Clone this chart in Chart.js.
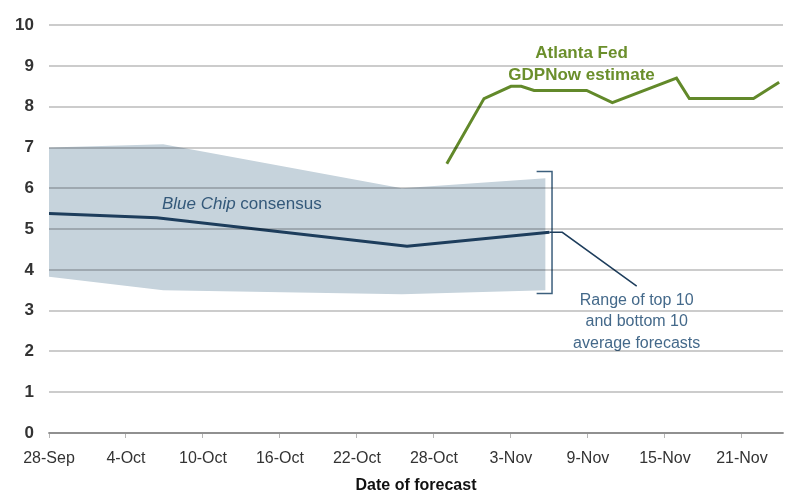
<!DOCTYPE html>
<html>
<head>
<meta charset="utf-8">
<script src="https://cdn.jsdelivr.net/npm/chart.js@4.4.1/dist/chart.umd.min.js"></script>
<style>
  html, body { margin: 0; padding: 0; background: #fff; }
  #wrap { width: 785px; height: 495px; }
</style>
</head>
<body>
<div id="wrap"><canvas id="gdpChart" width="785" height="495"></canvas></div>
<script>
'use strict'

// days counted from 28-Sep
const tickDays = [0, 6, 12, 18, 24, 30, 36, 42, 48, 54];
const tickLabels = ['28-Sep', '4-Oct', '10-Oct', '16-Oct', '22-Oct', '28-Oct', '3-Nov', '9-Nov', '15-Nov', '21-Nov'];

// Blue Chip range (top 10 / bottom 10 averages)
const bandDays = [0, 8.9, 27.5, 38.7];
const bandHigh = [7.0, 7.08, 6.0, 6.25];
const bandLow = [3.83, 3.5, 3.4, 3.5];

// Blue Chip consensus
const consensusDays = [0, 8.4, 27.9, 39.0];
const consensus = [5.38, 5.28, 4.58, 4.92];

// Atlanta Fed GDPNow
const gdpNowDays = [31.0, 33.9, 36.0, 36.8, 37.8, 41.9, 43.9, 48.9, 49.9, 54.9, 56.9];
const gdpNow = [6.6, 8.2, 8.5, 8.5, 8.4, 8.4, 8.1, 8.7, 8.2, 8.2, 8.6];

const pts = (xs, ys) => xs.map((x, i) => ({ x: x, y: ys[i] }));

const green = '#62892a';
const navy = '#1d3d5c';
const labelBlue = '#44698a';

// labels, bracket and pointer line, placed by data values
const notes = {
  id: 'notes',
  afterDatasetsDraw(chart) {
    const ctx = chart.ctx;
    const xs = chart.scales.x, ys = chart.scales.y;
    const X = v => xs.getPixelForValue(v);
    const Y = v => ys.getPixelForValue(v);
    ctx.save();

    // bracket
    ctx.strokeStyle = '#3c5f7d';
    ctx.lineWidth = 1.5;
    ctx.beginPath();
    ctx.moveTo(X(38.0), Y(6.41));
    ctx.lineTo(X(39.2), Y(6.41));
    ctx.lineTo(X(39.2), Y(3.42));
    ctx.lineTo(X(38.0), Y(3.42));
    ctx.stroke();

    // pointer
    ctx.strokeStyle = navy;
    ctx.lineWidth = 1.5;
    ctx.beginPath();
    ctx.moveTo(X(39.0), Y(4.92));
    ctx.lineTo(X(40.0), Y(4.92));
    ctx.lineTo(X(45.8), Y(3.6));
    ctx.stroke();

    // Blue Chip consensus
    ctx.textBaseline = 'middle';
    ctx.textAlign = 'left';
    ctx.fillStyle = '#34597a';
    ctx.font = 'italic 17px "Liberation Sans", Arial, sans-serif';
    const bx = X(8.8), by = Y(5.6);
    ctx.fillText('Blue Chip', bx, by);
    const w = ctx.measureText('Blue Chip ').width;
    ctx.font = '17px "Liberation Sans", Arial, sans-serif';
    ctx.fillText('consensus', bx + w, by);

    // range note
    ctx.textAlign = 'center';
    ctx.fillStyle = labelBlue;
    ctx.font = '16px "Liberation Sans", Arial, sans-serif';
    ctx.fillText('Range of top 10', X(45.8), Y(3.25));
    ctx.fillText('and bottom 10', X(45.8), Y(2.72));
    ctx.fillText('average forecasts', X(45.8), Y(2.2));

    // GDPNow label
    ctx.fillStyle = '#6b8f2c';
    ctx.font = 'bold 17px "Liberation Sans", Arial, sans-serif';
    ctx.fillText('Atlanta Fed', X(41.5), Y(9.3));
    ctx.fillText('GDPNow estimate', X(41.5), Y(8.76));
    ctx.restore();
  }
};

const ctx = document.getElementById('gdpChart').getContext('2d');
const gdpChart = new Chart(ctx, {
  type: 'line',
  data: {
    datasets: [{
      label: 'high',
      data: pts(bandDays, bandHigh),
      borderWidth: 0,
      pointRadius: 0,
      backgroundColor: '#c6d3dc',
      fill: '+1',
      tension: 0,
      order: 3
    }, {
      label: 'low',
      data: pts(bandDays, bandLow),
      borderWidth: 0,
      pointRadius: 0,
      fill: false,
      tension: 0,
      order: 3
    }, {
      label: 'Blue Chip consensus',
      data: pts(consensusDays, consensus),
      borderColor: navy,
      borderWidth: 3,
      pointRadius: 0,
      fill: false,
      tension: 0,
      order: 1
    }, {
      label: 'Atlanta Fed GDPNow estimate',
      data: pts(gdpNowDays, gdpNow),
      borderColor: green,
      borderWidth: 3,
      pointRadius: 0,
      fill: false,
      tension: 0,
      order: 1
    }]
  },
  options: {
    responsive: false,
    animation: false,
    layout: { padding: { top: 15, right: 2, left: 0, bottom: 0 } },
    plugins: {
      legend: { display: false },
      tooltip: { enabled: false }
    },
    scales: {
      x: {
        type: 'linear',
        min: 0,
        max: 57.2,
        afterBuildTicks: scale => { scale.ticks = tickDays.map(v => ({ value: v })); },
        afterFit: scale => { scale.height = 62; },
        grid: { drawOnChartArea: false, drawTicks: true, tickLength: 5, color: '#b5b5b5', lineWidth: 1 },
        border: { color: '#b5b5b5', width: 2 },
        ticks: {
          color: '#333',
          font: { family: '"Liberation Sans", Arial, sans-serif', size: 16 },
          padding: 11,
          maxRotation: 0,
          autoSkip: false,
          callback: (v, i) => tickLabels[i]
        },
        title: {
          display: true,
          text: 'Date of forecast',
          color: '#111',
          font: { family: '"Liberation Sans", Arial, sans-serif', size: 16, weight: 'bold' },
          padding: { top: 4, bottom: 0 }
        }
      },
      y: {
        min: 0,
        max: 10,
        afterFit: scale => { scale.width = 49; },
        grid: { color: 'rgba(0,0,0,0.2)', lineWidth: 2, drawTicks: false, z: 1 },
        border: { display: false },
        ticks: {
          stepSize: 1,
          color: '#333',
          padding: 15,
          font: { family: '"Liberation Sans", Arial, sans-serif', size: 17, weight: 'bold' }
        }
      }
    }
  },
  plugins: [notes]
});
</script>
</body>
</html>
